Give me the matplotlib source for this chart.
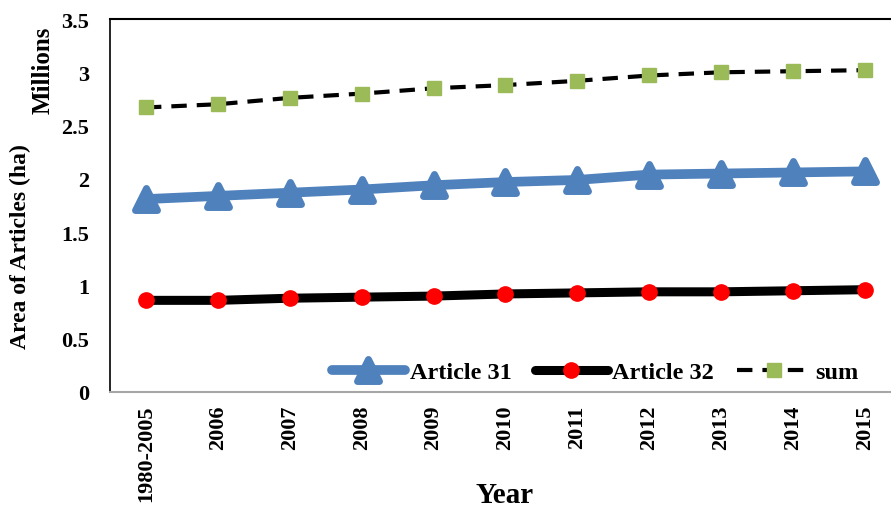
import matplotlib
matplotlib.use("Agg")
import matplotlib.pyplot as plt
from matplotlib.markers import MarkerStyle
import numpy as np

categories = ["1980-2005", "2006", "2007", "2008", "2009", "2010", "2011", "2012", "2013", "2014", "2015"]
article31 = [1.81, 1.84, 1.87, 1.90, 1.94, 1.97, 1.99, 2.04, 2.05, 2.06, 2.07]
article32 = [0.86, 0.86, 0.88, 0.89, 0.90, 0.92, 0.93, 0.94, 0.94, 0.95, 0.96]
total = [2.67, 2.70, 2.76, 2.80, 2.85, 2.88, 2.92, 2.97, 3.00, 3.01, 3.02]
yticks = [0, 0.5, 1, 1.5, 2, 2.5, 3, 3.5]
ytick_labels = ["0", "0.5", "1", "1.5", "2", "2.5", "3", "3.5"]

plt.rcParams['font.family'] = ['Liberation Serif', 'DejaVu Serif']
plt.rcParams['font.weight'] = 'bold'

W, H = 891, 510
fig = plt.figure(figsize=(W / 100, H / 100), dpi=100)
ax = fig.add_axes([110 / W, (H - 393) / H, (901 - 110) / W, (393 - 20) / H])

x = np.arange(len(categories))
tri = MarkerStyle('^', joinstyle='round')
ax.plot(x, article31, color='#4F81BD', lw=7, marker=tri, markersize=15.5,
        markeredgewidth=5, markerfacecolor='#4F81BD', markeredgecolor='#4F81BD',
        solid_joinstyle='round', solid_capstyle='round', label='Article 31', zorder=3)
ax.plot(x, article32, color='black', lw=6.5, marker='o', markersize=11,
        markerfacecolor='#FF0000', markeredgecolor='#FF0000',
        solid_capstyle='round', label='Article 32', zorder=3)
ax.plot(x, total, color='black', lw=3, dashes=(3.7, 2.4), marker='s', markersize=9.5,
        markerfacecolor='#9BBB59', markeredgecolor='#9BBB59', label='sum', zorder=3)

ax.set_xlim(-0.5, len(categories) - 0.5)
ax.set_ylim(0, 3.5)
ax.set_yticks(yticks)
ax.set_yticklabels(ytick_labels)
ax.set_xticks(x)
ax.set_xticklabels(categories, rotation=90)
ax.tick_params(axis='both', length=0, labelsize=16)
ax.tick_params(axis='x', pad=9)
ax.tick_params(axis='y', pad=15)
for lab in ax.get_xticklabels() + ax.get_yticklabels():
    lab.set_fontweight('bold')

ax.spines['right'].set_visible(False)
ax.spines['top'].set_color('black')
ax.spines['top'].set_linewidth(1.5)
ax.spines['left'].set_color('black')
ax.spines['left'].set_linewidth(1.2)
ax.spines['bottom'].set_color('#A6A6A6')
ax.spines['bottom'].set_linewidth(1.5)

fig.text(505 / W, (H - 496) / H, "Year", ha='center', va='center', fontsize=21, fontweight='bold')
fig.text(20 / W, (H - 247) / H, "Area of Articles (ha)", ha='center', va='center',
         rotation=90, fontsize=17, fontweight='bold')
fig.text(43 / W, (H - 70) / H, "Millions", ha='center', va='center',
         rotation=90, fontsize=18, fontweight='bold')

leg = fig.legend(loc='center left', bbox_to_anchor=(332 / W, (H - 373) / H), ncol=3,
                 frameon=False, prop={'size': 17.5, 'weight': 'bold'},
                 handlelength=3.0, handletextpad=0.2, columnspacing=0.95, borderpad=0,
                 borderaxespad=0)

fig.savefig("out.png", dpi=100)
